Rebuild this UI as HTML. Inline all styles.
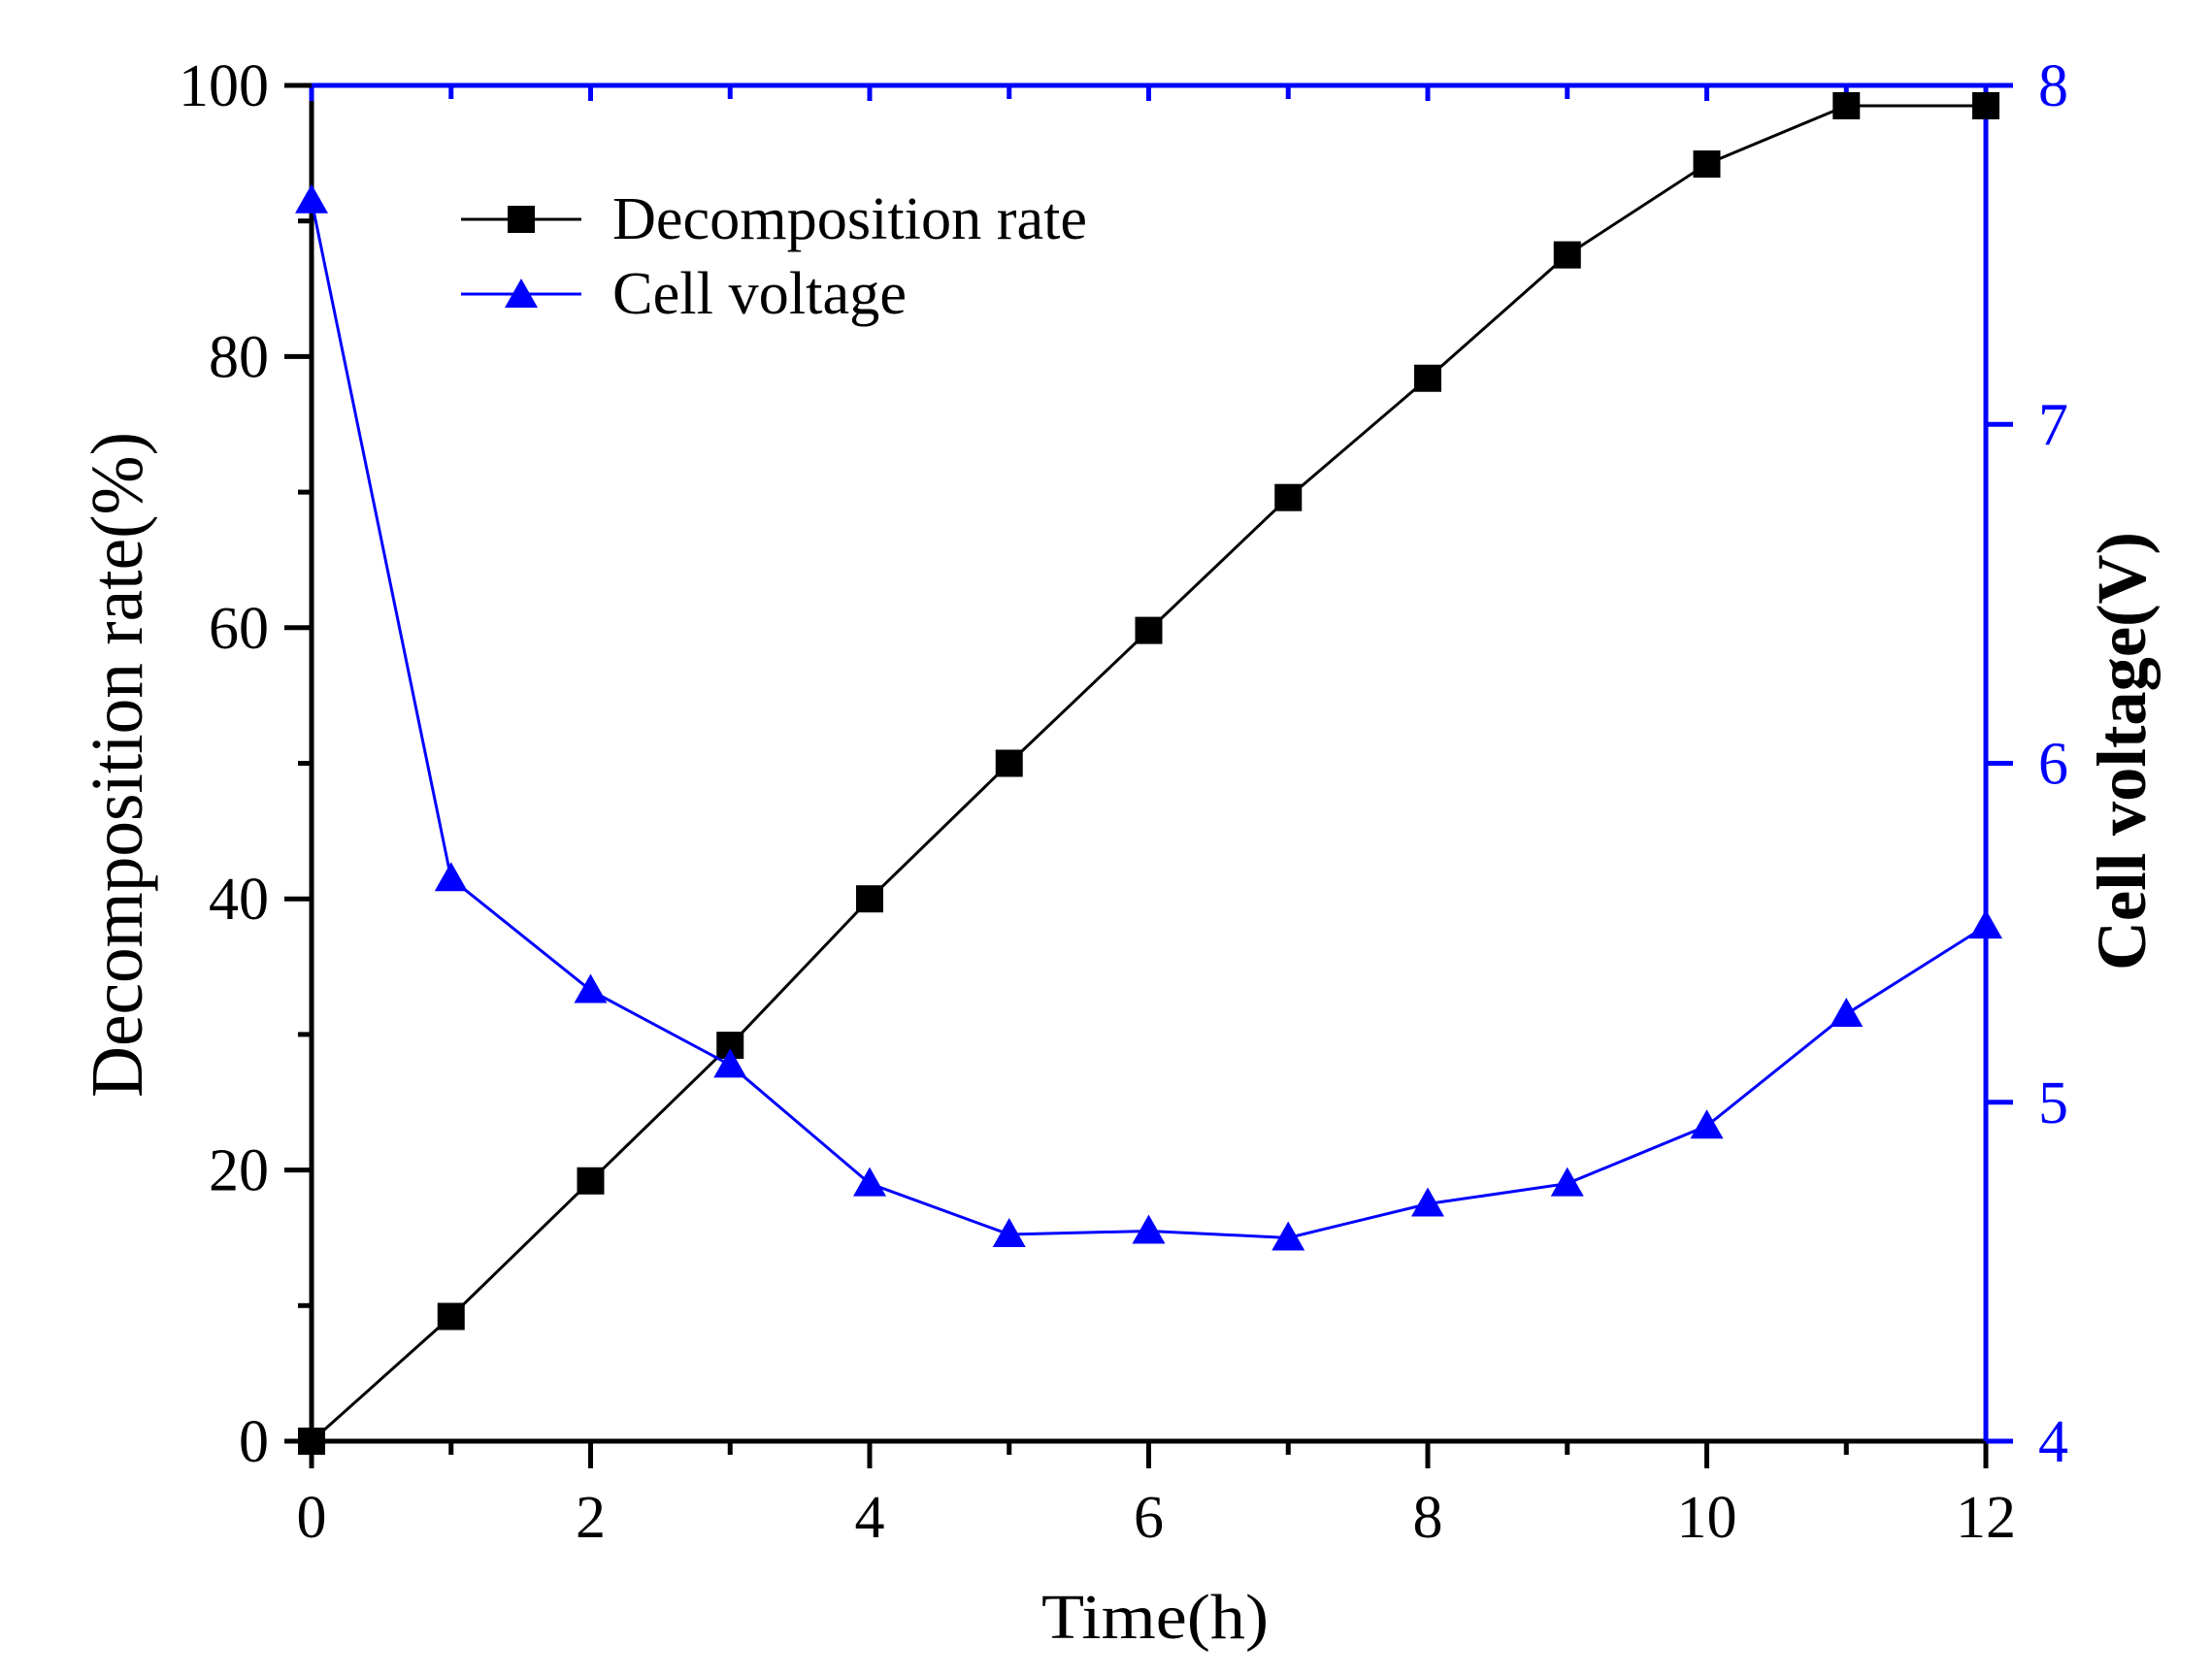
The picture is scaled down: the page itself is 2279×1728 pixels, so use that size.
<!DOCTYPE html>
<html><head><meta charset="utf-8"><style>
html,body{margin:0;padding:0;background:#fff}
svg{display:block}
text{font-family:"Liberation Serif",serif}
</style></head><body>
<svg id="chart" width="2279" height="1728" viewBox="0 0 2279 1728" xmlns="http://www.w3.org/2000/svg">
<g id="axes"></g>
<g id="series"></g>
<g>
  <line x1="475" y1="226" x2="599" y2="226" stroke="#000" stroke-width="3"/>
  <rect x="523" y="212" width="28" height="28" fill="#000"/>
  <text x="631" y="246" font-size="62" textLength="489" lengthAdjust="spacingAndGlyphs">Decomposition rate</text>
  <line x1="475" y1="303" x2="599" y2="303" stroke="#0000ff" stroke-width="3"/>
  <polygon points="537,287 554,317 520,317" fill="#0000ff"/>
  <text x="631" y="323" font-size="62" textLength="303" lengthAdjust="spacingAndGlyphs">Cell voltage</text>
</g>
<text x="1073" y="1688" font-size="66" textLength="234" lengthAdjust="spacingAndGlyphs">Time(h)</text>
<text transform="translate(146,1131) rotate(-90)" font-size="76" textLength="686" lengthAdjust="spacingAndGlyphs">Decomposition rate(%)</text>
<text transform="translate(2210,1000) rotate(-90)" font-size="72" font-weight="bold" textLength="452" lengthAdjust="spacingAndGlyphs">Cell voltage(V)</text>
</svg>
<script>
const times = [0,1,2,3,4,5,6,7,8,9,10,11,12];
const decomposition = [0,9.2,19.2,29.2,40,50,59.8,69.6,78.4,87.5,94.2,98.5,98.5];
const voltage = [7.66,5.66,5.33,5.11,4.76,4.61,4.62,4.60,4.70,4.76,4.93,5.26,5.52];
const xTicks = [0,2,4,6,8,10,12];
const leftTicks = [0,20,40,60,80,100];
const rightTicks = [4,5,6,7,8];

const X0=321,X1=2046,Y0=1485,Y1=88;
const xS=v=>X0+(v-0)/12*(X1-X0);
const yL=v=>Y0-(v-0)/100*(Y0-Y1);
const yR=v=>Y0-(v-4)/4*(Y0-Y1);
const NS="http://www.w3.org/2000/svg";
function mk(tag,attrs,parent){const e=document.createElementNS(NS,tag);for(const k in attrs)e.setAttribute(k,attrs[k]);parent.appendChild(e);return e;}
const ax=document.getElementById('axes'), se=document.getElementById('series');

let e;
e=mk('line',{x1:X0,y1:Y0,x2:X1+2,y2:Y0,stroke:'#000','stroke-width':5},ax);


e=mk('line',{x1:X0,y1:Y0+2,x2:X0,y2:Y1,stroke:'#000','stroke-width':5},ax);


e=mk('line',{x1:X0-2,y1:Y1,x2:X1+2,y2:Y1,stroke:'#0000ff','stroke-width':5},ax);


e=mk('line',{x1:X1,y1:Y0+2,x2:X1,y2:Y1-2,stroke:'#0000ff','stroke-width':5},ax);



for(let t=0;t<=12;t++){
  const major=t%2===0;
  e=mk('line',{x1:xS(t),y1:Y0,x2:xS(t),y2:Y0+(major?28:14),stroke:'#000','stroke-width':5},ax);
  
  
  e=mk('line',{x1:xS(t),y1:Y1,x2:xS(t),y2:Y1+(major?16:14),stroke:'#0000ff','stroke-width':5},ax);
  
  
}
xTicks.forEach(t=>{
  e=mk('text',{x:xS(t),y:1584,'font-size':62,'text-anchor':'middle'},ax);
  e.textContent=t;
  
  
});
for(let v=0;v<=100;v+=10){
  const major=v%20===0;
  e=mk('line',{x1:X0-(major?28:14),y1:yL(v),x2:X0,y2:yL(v),stroke:'#000','stroke-width':5},ax);
  
  
}
leftTicks.forEach(v=>{
  e=mk('text',{x:277,y:yL(v)+21,'font-size':62,'text-anchor':'end'},ax);
  e.textContent=v;
  
  
});
rightTicks.forEach(v=>{
  e=mk('line',{x1:X1,y1:yR(v),x2:X1+28,y2:yR(v),stroke:'#0000ff','stroke-width':5},ax);
  
  
  e=mk('text',{x:2100,y:yR(v)+21,'font-size':62,fill:'#0000ff'},ax);
  e.textContent=v;
  
  
});

e=mk('polyline',{points:times.map((t,i)=>xS(t)+','+yL(decomposition[i])).join(' '),fill:'none',stroke:'#000','stroke-width':3},se);


times.forEach((t,i)=>{
  e=mk('rect',{x:xS(t)-14,y:yL(decomposition[i])-14,width:28,height:28,fill:'#000'},se);
  
  
});
e=mk('polyline',{points:times.map((t,i)=>xS(t)+','+yR(voltage[i])).join(' '),fill:'none',stroke:'#0000ff','stroke-width':3},se);


times.forEach((t,i)=>{
  const cx=xS(t), cy=yR(voltage[i]);
  e=mk('polygon',{points:`${cx},${cy-17} ${cx+17},${cy+13} ${cx-17},${cy+13}`,fill:'#0000ff'},se);
  
  
});
</script>
</body></html>
